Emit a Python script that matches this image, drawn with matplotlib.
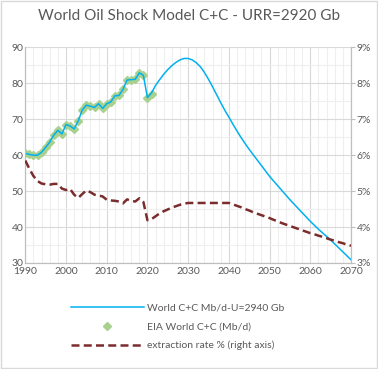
import matplotlib.pyplot as plt
from matplotlib.ticker import MultipleLocator, FuncFormatter
from matplotlib.patches import Rectangle
from matplotlib.lines import Line2D

plt.rcParams['font.family'] = ['Lato', 'DejaVu Sans']

# EIA annual data
eia_years = list(range(1990, 2022))
eia_prod = [60.5, 60.2, 60.0, 60.0, 60.8, 62.2, 63.6, 65.6, 66.9, 65.9,
            68.5, 68.1, 67.3, 69.5, 72.6, 73.9, 73.6, 73.3, 74.3, 73.0,
            74.3, 74.8, 76.5, 76.6, 78.3, 80.9, 81.0, 81.1, 82.9, 82.2,
            76.0, 77.0]

# model output
model_years = list(range(1990, 2071))
model_prod = [60.5, 60.2, 60.0, 60.0, 60.8, 62.2, 63.6, 65.6, 66.9, 65.9,
              68.5, 68.1, 67.3, 69.5, 72.6, 73.9, 73.6, 73.3, 74.3, 73.0,
              74.3, 74.8, 76.5, 76.6, 78.3, 80.9, 81.0, 81.1, 82.9, 82.2,
              76.0, 77.3, 79.4, 81.0, 82.5, 83.8, 84.9, 85.8, 86.5, 86.9,
              86.9, 86.5, 85.7, 84.6, 83.0, 81.1, 79.0, 76.8, 74.6, 72.5,
              70.6, 68.6, 66.7, 64.9, 63.2, 61.6, 60.1, 58.6, 57.1, 55.6,
              54.1, 52.8, 51.5, 50.2, 48.9, 47.6, 46.4, 45.2, 44.0, 42.8,
              41.6, 40.5, 39.4, 38.4, 37.4, 36.4, 35.3, 34.2, 33.1, 32.0,
              30.9]

# extraction rate, percent
rate = [5.85, 5.62, 5.42, 5.28, 5.21, 5.19, 5.18, 5.20, 5.20, 5.07,
        5.03, 5.06, 4.90, 4.81, 4.92, 5.02, 4.97, 4.90, 4.88, 4.85,
        4.76, 4.74, 4.73, 4.71, 4.66, 4.77, 4.73, 4.71, 4.80, 4.70,
        4.19, 4.22, 4.30, 4.38, 4.44, 4.49, 4.54, 4.58, 4.62, 4.65,
        4.67, 4.67, 4.67, 4.67, 4.67, 4.67, 4.67, 4.67, 4.67, 4.67,
        4.67, 4.63, 4.59, 4.55, 4.50, 4.46, 4.41, 4.37, 4.33, 4.29,
        4.25, 4.20, 4.16, 4.11, 4.07, 4.03, 3.99, 3.95, 3.91, 3.87,
        3.83, 3.80, 3.76, 3.73, 3.69, 3.65, 3.62, 3.58, 3.55, 3.51,
        3.48]

txt = '#595959'
grid_major = '#d9d9d9'
grid_minor = '#efefef'

fig = plt.figure(figsize=(3.78, 3.69), dpi=100)
fig.patches.append(Rectangle((0.003, 0.003), 0.994, 0.994, transform=fig.transFigure,
                             fill=False, edgecolor='#d9d9d9', linewidth=1))

ax = fig.add_axes([25.3 / 378, 1 - 263 / 369, (351 - 25.3) / 378, (263 - 47.3) / 369])
ax2 = ax.twinx()

ax.set_xlim(1990, 2070)
ax.set_ylim(30, 90)
ax2.set_ylim(3, 9)

ax.xaxis.set_major_locator(MultipleLocator(10))
ax.xaxis.set_minor_locator(MultipleLocator(2))
ax.yaxis.set_major_locator(MultipleLocator(10))
ax.yaxis.set_minor_locator(MultipleLocator(5))
ax2.yaxis.set_major_locator(MultipleLocator(1))
ax2.yaxis.set_major_formatter(FuncFormatter(lambda v, p: '%d%%' % v))

ax.grid(which='major', color=grid_major, linewidth=0.8)
ax.grid(which='minor', color=grid_minor, linewidth=0.8)
ax.set_axisbelow(True)

for a in (ax, ax2):
    for s in a.spines.values():
        s.set_color('#bfbfbf')
        s.set_linewidth(0.8)
    a.spines['top'].set_visible(False)
    a.tick_params(which='both', length=0, colors=txt, labelsize=7.5, pad=1.5)
ax.tick_params(axis='x', pad=3)
ax2.tick_params(axis='y', length=3, color='#bfbfbf', direction='out', pad=1)

ax.plot(eia_years, eia_prod, linestyle='none', marker='D', markersize=4.5,
        color='#a9d18e', zorder=2)
ax.plot(model_years, model_prod, color='#00b0f0', linewidth=1.1, zorder=3)
ax2.plot(model_years, rate, color='#7b2c2c', linewidth=1.8,
         dashes=(3.2, 1.7), zorder=3)

fig.text(0.5, 1 - 16 / 369, 'World Oil Shock Model C+C - URR=2920 Gb',
         ha='center', va='center', fontsize=11, color=txt)

handles = [
    Line2D([], [], color='#00b0f0', linewidth=1.1),
    Line2D([], [], linestyle='none', marker='D', markersize=4.5, color='#a9d18e'),
    Line2D([], [], color='#7b2c2c', linewidth=1.8, dashes=(3.2, 1.7)),
]
labels = ['World C+C Mb/d-U=2940 Gb', 'EIA World C+C (Mb/d)',
          'extraction rate % (right axis)']
leg = fig.legend(handles, labels, loc='center', bbox_to_anchor=(0.47, 1 - 327 / 369),
                 frameon=False, fontsize=7.5, handlelength=7, labelspacing=0.9,
                 handletextpad=0.3)
for t in leg.get_texts():
    t.set_color(txt)

fig.savefig('out.png', dpi=100)
